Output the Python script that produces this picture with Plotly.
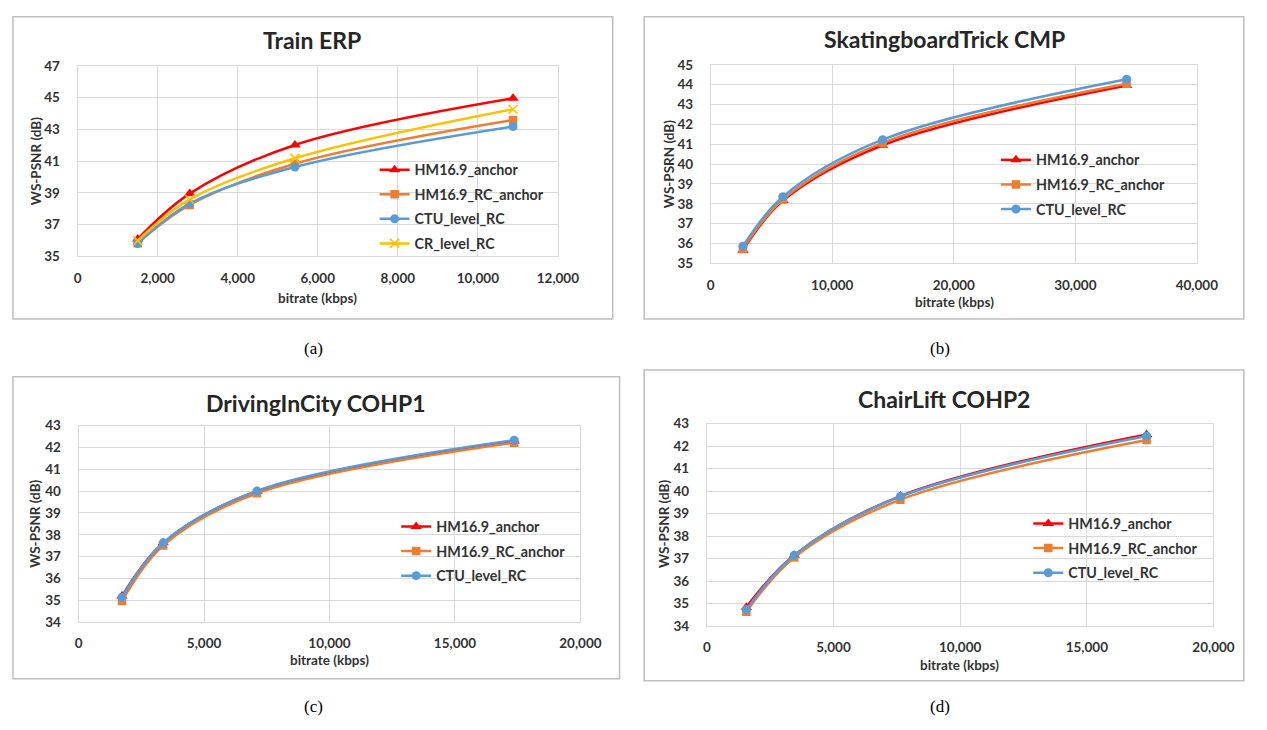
import plotly.graph_objects as go

# page body keeps its default 8px margin, so the figure is sized to fit the window exactly
OFF = 8
W, H = 1267 - 2 * OFF, 730 - 2 * OFF

# ---------------- data ----------------
series_names = ["HM16.9_anchor", "HM16.9_RC_anchor", "CTU_level_RC", "CR_level_RC"]

titles = ["Train ERP", "SkatingboardTrick CMP", "DrivingInCity COHP1", "ChairLift COHP2"]
y_titles = ["WS-PSNR (dB)", "WS-PSRN (dB)", "WS-PSNR (dB)", "WS-PSNR (dB)"]
x_title = "bitrate (kbps)"
captions = ["(a)", "(b)", "(c)", "(d)"]

train_bitrate = [1500, 2800, 5430, 10880]
train_hm = [36.1, 38.96, 42.02, 44.96]
train_hm_rc = [35.84, 38.24, 40.84, 43.59]
train_ctu = [35.82, 38.33, 40.63, 43.18]
train_cr = [36.0, 38.59, 41.18, 44.27]

skate_bitrate = [2650, 5940, 14140, 34220]
skate_hm = [35.66, 38.16, 40.95, 43.96]
skate_hm_rc = [35.72, 38.22, 41.07, 44.05]
skate_ctu = [35.86, 38.36, 41.23, 44.28]

drive_bitrate = [1730, 3370, 7110, 17360]
drive_hm = [35.19, 37.63, 39.99, 42.30]
drive_hm_rc = [34.97, 37.51, 39.90, 42.22]
drive_ctu = [35.14, 37.63, 40.01, 42.33]

chair_bitrate = [1560, 3450, 7640, 17360]
chair_hm = [34.84, 37.15, 39.78, 42.52]
chair_hm_rc = [34.63, 37.05, 39.62, 42.27]
chair_ctu = [34.73, 37.15, 39.76, 42.45]

x_ranges = [[0, 12000], [0, 40000], [0, 20000], [0, 20000]]
x_dticks = [2000, 10000, 5000, 5000]
y_ranges = [[35, 47], [35, 45], [34, 43], [34, 43]]
y_dticks = [2, 1, 1, 1]

panel_data = [
    (train_bitrate, [train_hm, train_hm_rc, train_ctu, train_cr]),
    (skate_bitrate, [skate_hm, skate_hm_rc, skate_ctu]),
    (drive_bitrate, [drive_hm, drive_hm_rc, drive_ctu]),
    (chair_bitrate, [chair_hm, chair_hm_rc, chair_ctu]),
]

# ---------------- styling / layout (window pixels) ----------------
colors = ["#FF0000", "#ED7D31", "#5B9BD5", "#FFC000"]
symbols = ["triangle-up", "square", "circle", "x-thin"]
msizes = [10, 8.5, 9, 9]

boxes = [(9, 8.8, 621, 318), (653, 8.8, 1265, 318), (9, 377, 628, 686), (653, 370, 1265, 688)]
plots = [(75, 59, 565, 254), (721, 58, 1217, 261), (76, 427, 588, 628), (717, 425, 1234, 632)]
title_pos = [(314, 33), (960, 32), (318, 404), (959, 400)]
ytitle_pos = [(32, 157), (678, 160), (32, 528), (674, 528)]
xtitle_pos = [(320, 296), (970, 301), (332, 667), (975, 672)]
legend_pos = [(378, 149), (1012, 139), (400, 514), (1045, 511)]
caption_pos = [(316, 348), (955, 348), (316, 714), (955, 714)]

FONT = "Lato"
TXT = "#333333"
GRID = "#D9D9D9"


def px_x(px):
    return (px - OFF) / W


def px_y(py):
    return 1 - (py - OFF) / H


fig = go.Figure()
layout = dict(
    width=W, height=H, margin=dict(l=0, r=0, t=0, b=0),
    paper_bgcolor="white", plot_bgcolor="white",
    showlegend=True, shapes=[], annotations=[],
)

for i in range(4):
    sfx = "" if i == 0 else str(i + 1)
    xa, ya = "x" + sfx, "y" + sfx
    lg = "legend" if i == 0 else "legend" + str(i + 1)
    xs, ys_list = panel_data[i]
    for j, ys in enumerate(ys_list):
        marker = dict(symbol=symbols[j], size=msizes[j], color=colors[j])
        if symbols[j] == "x-thin":
            marker["line"] = dict(color=colors[j], width=1.6)
        fig.add_trace(go.Scatter(
            x=xs, y=ys, name=series_names[j], mode="lines+markers",
            line=dict(color=colors[j], width=2.5, shape="spline", smoothing=1.0),
            marker=marker, xaxis=xa, yaxis=ya, legend=lg,
            legendgroup=f"g{i}_{j}", showlegend=True,
        ))

    l, t, r, b = plots[i]
    layout["xaxis" + sfx] = dict(
        domain=[px_x(l), px_x(r)], anchor=ya, range=x_ranges[i], dtick=x_dticks[i],
        tick0=x_ranges[i][0], tickformat=",d", showgrid=True, gridcolor=GRID, gridwidth=1,
        showline=True, linecolor=GRID, linewidth=1, mirror=True, zeroline=False,
        ticks="", ticklabelstandoff=9,
        tickfont=dict(family=FONT, size=13.5, color=TXT, weight="bold"),
    )
    layout["yaxis" + sfx] = dict(
        domain=[px_y(b), px_y(t)], anchor=xa, range=y_ranges[i], dtick=y_dticks[i],
        tick0=y_ranges[i][0], showgrid=True, gridcolor=GRID, gridwidth=1,
        showline=True, linecolor=GRID, linewidth=1, mirror=True, zeroline=False,
        ticks="", ticklabelstandoff=14,
        tickfont=dict(family=FONT, size=13.5, color=TXT, weight="bold"),
    )
    lx, ly = legend_pos[i]
    layout[lg] = dict(
        x=px_x(lx), y=px_y(ly), xanchor="left", yanchor="top",
        xref="paper", yref="paper", bgcolor="rgba(0,0,0,0)",
        font=dict(family=FONT, size=14.3, color=TXT, weight="bold"),
        tracegroupgap=3, traceorder="grouped", itemwidth=30,
    )
    bl, bt, br, bb = boxes[i]
    layout["shapes"].append(dict(
        type="rect", xref="paper", yref="paper",
        x0=px_x(bl), x1=px_x(br), y0=px_y(bb), y1=px_y(bt),
        line=dict(color="#BFBFBF", width=1.5), layer="below",
    ))
    tx, ty = title_pos[i]
    layout["annotations"].append(dict(
        text=titles[i], x=px_x(tx), y=px_y(ty), xref="paper", yref="paper",
        showarrow=False, xanchor="center", yanchor="middle",
        font=dict(family=FONT, size=23, color="#262626", weight="bold"),
    ))
    yx, yy = ytitle_pos[i]
    layout["annotations"].append(dict(
        text=y_titles[i], x=px_x(yx), y=px_y(yy), xref="paper", yref="paper",
        showarrow=False, xanchor="center", yanchor="middle", textangle=-90,
        font=dict(family=FONT, size=13.5, color=TXT, weight="bold"),
    ))
    xx, xy = xtitle_pos[i]
    layout["annotations"].append(dict(
        text=x_title, x=px_x(xx), y=px_y(xy), xref="paper", yref="paper",
        showarrow=False, xanchor="center", yanchor="middle",
        font=dict(family=FONT, size=13.5, color=TXT, weight="bold"),
    ))
    cx, cy = caption_pos[i]
    layout["annotations"].append(dict(
        text=captions[i], x=px_x(cx), y=px_y(cy), xref="paper", yref="paper",
        showarrow=False, xanchor="center", yanchor="middle",
        font=dict(family="Liberation Serif", size=17, color="black"),
    ))

fig.update_layout(**layout)
fig.write_html("out.html", config={"displayModeBar": False})
